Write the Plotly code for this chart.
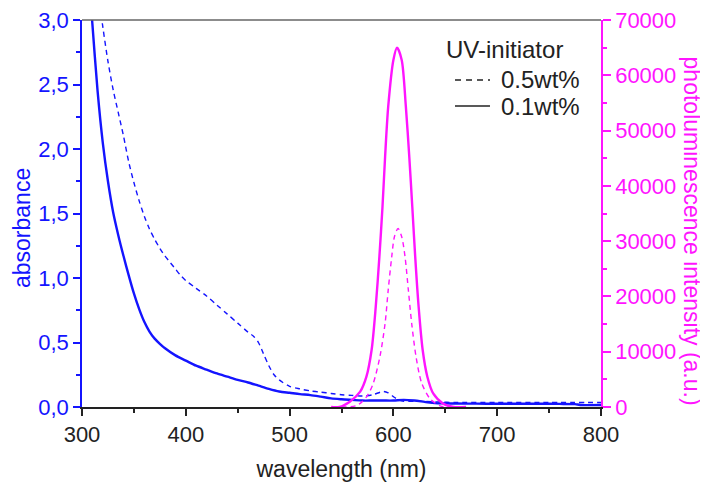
import plotly.graph_objects as go

# ---- absorbance, 0.1 wt% (solid blue) ----
wl_abs_01 = [300, 305, 310, 315, 320, 325, 330, 335, 340, 345, 350, 355, 360, 365, 370, 375, 380,
             390, 400, 410, 420, 430, 440, 450, 460, 470, 480, 490, 500, 510, 520, 530, 540, 550,
             560, 570, 580, 590, 600, 610, 620, 630, 640, 650, 660, 680, 700, 720, 740, 760, 775,
             780, 800]
abs_01 = [4.2, 3.5, 2.97, 2.45, 2.05, 1.75, 1.51, 1.33, 1.17, 1.02, 0.88, 0.76, 0.66, 0.585, 0.53, 0.49, 0.455,
          0.40, 0.36, 0.32, 0.29, 0.26, 0.235, 0.21, 0.19, 0.165, 0.14, 0.12, 0.11, 0.10, 0.092, 0.08, 0.067, 0.06,
          0.055, 0.05, 0.05, 0.05, 0.05, 0.055, 0.05, 0.04, 0.03, 0.028, 0.027, 0.026, 0.025, 0.025, 0.025, 0.024, 0.022,
          0.016, 0.015]

# ---- absorbance, 0.5 wt% (dashed blue) ----
wl_abs_05 = [310, 315, 320, 325, 330, 335, 340, 345, 350, 355, 360, 365, 370, 375, 380, 385, 390, 395,
             400, 410, 420, 430, 440, 450, 460, 465, 470, 475, 480, 485, 490, 500, 510, 520, 530, 540,
             550, 560, 570, 580, 590, 595, 600, 605, 610, 620, 640, 660, 700, 750, 800]
abs_05 = [3.6, 3.25, 2.95, 2.68, 2.46, 2.28, 2.1, 1.9, 1.74, 1.6, 1.48, 1.38, 1.30, 1.23, 1.17, 1.12, 1.07, 1.02,
          0.98, 0.92, 0.86, 0.79, 0.72, 0.65, 0.58, 0.55, 0.50, 0.41, 0.32, 0.25, 0.21, 0.16, 0.14, 0.125, 0.115, 0.105,
          0.095, 0.09, 0.085, 0.095, 0.12, 0.11, 0.08, 0.055, 0.045, 0.045, 0.04, 0.035, 0.035, 0.035, 0.035]

# ---- photoluminescence, 0.1 wt% (solid magenta) ----
wl_pl_01 = [540, 548, 558, 568, 574, 579, 583, 586.5, 589.5, 592, 595, 600, 603.5, 608, 612, 615.3,
            618.2, 621, 624.3, 628.2, 632.7, 638.5, 648, 658, 670]
pl_01 = [0, 0, 960, 2770, 5480, 10310, 18140, 27190, 36230, 45270, 54320, 62770, 65000, 62770, 54320, 45270,
         36230, 27190, 18140, 10310, 5480, 2400, 600, 0, 0]

# ---- photoluminescence, 0.5 wt% (dashed magenta) ----
wl_pl_05 = [550, 565, 574.3, 580.6, 587, 592, 595, 598.4, 601, 604.5, 608, 611.2, 614.4, 617.6, 621.8,
            627.3, 635.3, 645, 655]
pl_05 = [0, 300, 1870, 4290, 9100, 15140, 21160, 27190, 30800, 32300, 30800, 27190, 21160, 15140, 9100,
         4290, 1500, 200, 0]

# legend texts
legend_title = "UV-initiator"
legend_labels = ["0.5wt%", "0.1wt%"]

BLUE = "#1414ff"
MAG = "#ff14ff"
DARK = "#222222"
FONT = "Liberation Sans, Arial, sans-serif"

fig = go.Figure()
fig.add_trace(go.Scatter(x=wl_abs_05, y=abs_05, mode="lines", showlegend=False,
                         line=dict(color=BLUE, width=1.4, dash="5px,4px", shape="spline", smoothing=0.8)))
fig.add_trace(go.Scatter(x=wl_abs_01, y=abs_01, mode="lines", showlegend=False,
                         line=dict(color=BLUE, width=2.4, shape="spline", smoothing=0.8)))
fig.add_trace(go.Scatter(x=wl_pl_05, y=pl_05, mode="lines", showlegend=False, yaxis="y2",
                         line=dict(color=MAG, width=1.4, dash="5px,4px", shape="spline", smoothing=0.8)))
fig.add_trace(go.Scatter(x=wl_pl_01, y=pl_01, mode="lines", showlegend=False, yaxis="y2",
                         line=dict(color=MAG, width=2.4, shape="spline", smoothing=0.8)))

# legend drawn as text + line samples (paper coordinates)
annotations = [
    dict(text=legend_title, xref="paper", yref="paper", x=0.698, y=0.9225, xanchor="left", yanchor="middle",
         showarrow=False, font=dict(size=24, color=DARK)),
    dict(text=legend_labels[0], xref="paper", yref="paper", x=0.804, y=0.8475, xanchor="left", yanchor="middle",
         showarrow=False, font=dict(size=24, color=DARK)),
    dict(text=legend_labels[1], xref="paper", yref="paper", x=0.804, y=0.7752, xanchor="left", yanchor="middle",
         showarrow=False, font=dict(size=24, color=DARK)),
    dict(text="absorbance", textangle=-90, xref="paper", yref="paper", x=-0.1156, y=0.4625,
         xanchor="center", yanchor="middle", showarrow=False, font=dict(size=23, color=BLUE)),
    dict(text="photoluminescence intensity (a.u.)", textangle=90, xref="paper", yref="paper",
         x=1.176, y=0.455, xanchor="center", yanchor="middle", showarrow=False, font=dict(size=23, color=MAG)),
]
shapes = [
    dict(type="line", xref="paper", yref="paper", x0=0.7187, x1=0.7861, y0=0.845, y1=0.845,
         line=dict(color=DARK, width=1.5, dash="6px,5px")),
    dict(type="line", xref="paper", yref="paper", x0=0.7187, x1=0.7861, y0=0.7778, y1=0.7778,
         line=dict(color=DARK, width=1.5)),
    dict(type="line", xref="paper", yref="paper", x0=0, x1=1, y0=1, y1=1,
         line=dict(color="#666666", width=1.5)),
]

# The page body adds an 8px offset; the figure is sized to fit the 708x491 window.
fig.update_layout(
    width=700, height=483,
    margin=dict(l=74, r=107, t=12, b=84, autoexpand=False),
    paper_bgcolor="white", plot_bgcolor="white",
    separators=",.",
    showlegend=False,
    font=dict(family=FONT, size=22, color=DARK),
    xaxis=dict(range=[300, 800], dtick=100, tick0=300, showgrid=False, zeroline=False, automargin=False,
               showline=True, linecolor=DARK, linewidth=1.5, ticklabeloverflow="allow",
               ticks="outside", ticklen=7, tickcolor=DARK, tickwidth=1.5,
               minor=dict(dtick=50, ticks="outside", ticklen=4, tickcolor=DARK, tickwidth=1.5),
               tickfont=dict(size=22, color=DARK),
               title=dict(text="wavelength (nm)", font=dict(size=23, color=DARK), standoff=15)),
    yaxis=dict(range=[0, 3.0], dtick=0.5, tick0=0, showgrid=False, zeroline=False, automargin=False,
               showline=True, linecolor=BLUE, linewidth=1.5, ticklabeloverflow="allow",
               ticks="outside", ticklen=7, tickcolor=BLUE, tickwidth=1.5,
               minor=dict(dtick=0.25, ticks="outside", ticklen=4, tickcolor=BLUE, tickwidth=1.5),
               tickformat=".1f", tickfont=dict(size=22, color=BLUE)),
    yaxis2=dict(range=[0, 70000], dtick=10000, tick0=0, overlaying="y", side="right", automargin=False,
                showgrid=False, zeroline=False, showline=True, linecolor=MAG, linewidth=1.5,
                ticklabeloverflow="allow",
                ticks="outside", ticklen=8, tickcolor=MAG, tickwidth=1.5,
                minor=dict(dtick=5000, ticks="outside", ticklen=4, tickcolor=MAG, tickwidth=1.5),
                tickformat="d", exponentformat="none", tickfont=dict(size=22, color=MAG)),
    annotations=annotations,
    shapes=shapes,
)

fig.write_html("out.html")
